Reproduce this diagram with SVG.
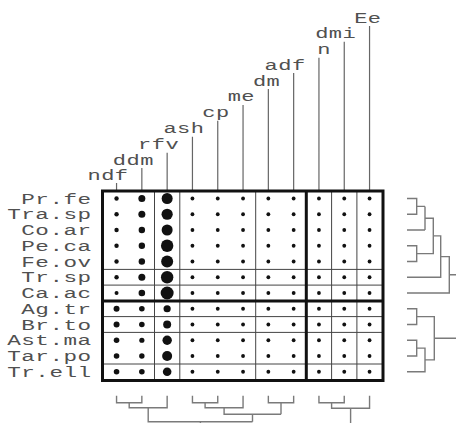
<svg xmlns="http://www.w3.org/2000/svg" xmlns:xlink="http://www.w3.org/1999/xlink" width="456" height="423" viewBox="0 0 456 423">
<style>
.lbl{font-family:"Liberation Mono","DejaVu Sans Mono",monospace;font-size:14.5px;fill:#505050;letter-spacing:0.3px;text-anchor:end}
.tick{stroke:#666;stroke-width:1.2;fill:none}
.thin{stroke:#444;stroke-width:1;fill:none}
.thick{stroke:#111;stroke-width:3;fill:none}
.dend{stroke:#7a7a7a;stroke-width:1.4;fill:none}
.dot{fill:#111}
</style>
<defs>
<g id="sd" class="dot">
<circle cx="192.45" cy="0" r="1.9"/><circle cx="217.75" cy="0" r="1.9"/><circle cx="243.05" cy="0" r="1.9"/><circle cx="268.35" cy="0" r="1.9"/><circle cx="293.65" cy="0" r="1.9"/><circle cx="318.95" cy="0" r="1.9"/><circle cx="344.25" cy="0" r="1.9"/><circle cx="369.55" cy="0" r="1.9"/>
</g>
</defs>
<rect width="456" height="423" fill="#fff"/>

<g id="column-labels">
<path class="tick" d="M116.55,183V191M141.85,168V191M167.15,152.7V191M192.45,136.7V191M217.75,120.7V191M243.05,105V191M268.35,89V191M293.65,73V191M318.95,57.7V191M344.25,41.7V191M369.55,26V191"/>
<text class="lbl" transform="translate(128.5,180.2) scale(1.52,1)">ndf</text>
<text class="lbl" transform="translate(153.8,164.5) scale(1.52,1)">ddm</text>
<text class="lbl" transform="translate(179.1,148.7) scale(1.52,1)">rfv</text>
<text class="lbl" transform="translate(204.4,132.9) scale(1.52,1)">ash</text>
<text class="lbl" transform="translate(229.7,117.2) scale(1.52,1)">cp</text>
<text class="lbl" transform="translate(255,101.4) scale(1.52,1)">me</text>
<text class="lbl" transform="translate(280.3,85.7) scale(1.52,1)">dm</text>
<text class="lbl" transform="translate(305.6,69.9) scale(1.52,1)">adf</text>
<text class="lbl" transform="translate(330.9,54.2) scale(1.52,1)">n</text>
<text class="lbl" transform="translate(356.2,38.4) scale(1.52,1)">dmi</text>
<text class="lbl" transform="translate(381.5,22.7) scale(1.52,1)">Ee</text>
</g>

<g id="row-labels">
<text class="lbl" transform="translate(91.5,203.5) scale(1.56,1)">Pr.fe</text>
<text class="lbl" transform="translate(91.5,219.25) scale(1.56,1)">Tra.sp</text>
<text class="lbl" transform="translate(91.5,235) scale(1.56,1)">Co.ar</text>
<text class="lbl" transform="translate(91.5,250.75) scale(1.56,1)">Pe.ca</text>
<text class="lbl" transform="translate(91.5,266.5) scale(1.56,1)">Fe.ov</text>
<text class="lbl" transform="translate(91.5,282.25) scale(1.56,1)">Tr.sp</text>
<text class="lbl" transform="translate(91.5,298) scale(1.56,1)">Ca.ac</text>
<text class="lbl" transform="translate(91.5,313.75) scale(1.56,1)">Ag.tr</text>
<text class="lbl" transform="translate(91.5,329.5) scale(1.56,1)">Br.to</text>
<text class="lbl" transform="translate(91.5,345.25) scale(1.56,1)">Ast.ma</text>
<text class="lbl" transform="translate(91.5,361) scale(1.56,1)">Tar.po</text>
<text class="lbl" transform="translate(91.5,376.75) scale(1.56,1)">Tr.ell</text>
</g>

<g id="grid">
<path class="thin" d="M154.5,191V380.5M179.8,191V380.5M255.7,191V380.5M331.6,191V380.5M356.9,191V380.5"/>
<path class="thin" d="M102.5,269.4H383M102.5,285.1H383M102.5,316.6H383M102.5,332.4H383M102.5,364H383"/>
<path class="thick" d="M102.5,300.9H383M306.3,191V380.5"/>
<rect class="thick" x="102.5" y="191" width="280.5" height="189.5"/>
</g>

<g id="dots" class="dot">
<use xlink:href="#sd" y="198.5"/><use xlink:href="#sd" y="214.25"/><use xlink:href="#sd" y="230"/><use xlink:href="#sd" y="245.75"/><use xlink:href="#sd" y="261.5"/><use xlink:href="#sd" y="277.25"/><use xlink:href="#sd" y="293"/><use xlink:href="#sd" y="308.75"/><use xlink:href="#sd" y="324.5"/><use xlink:href="#sd" y="340.25"/><use xlink:href="#sd" y="356"/><use xlink:href="#sd" y="371.75"/>
<circle cx="116.55" cy="198.5" r="2.2"/><circle cx="141.85" cy="198.5" r="3.5"/><circle cx="167.15" cy="198.5" r="5.5"/>
<circle cx="116.55" cy="214.25" r="2.2"/><circle cx="141.85" cy="214.25" r="3.5"/><circle cx="167.15" cy="214.25" r="5.6"/>
<circle cx="116.55" cy="230" r="2.2"/><circle cx="141.85" cy="230" r="3.2"/><circle cx="167.15" cy="230" r="5.5"/>
<circle cx="116.55" cy="245.75" r="2.2"/><circle cx="141.85" cy="245.75" r="3.2"/><circle cx="167.15" cy="245.75" r="6.2"/>
<circle cx="116.55" cy="261.5" r="2.2"/><circle cx="141.85" cy="261.5" r="3.2"/><circle cx="167.15" cy="261.5" r="6"/>
<circle cx="116.55" cy="277.25" r="2.2"/><circle cx="141.85" cy="277.25" r="3.5"/><circle cx="167.15" cy="277.25" r="6.2"/>
<circle cx="116.55" cy="293" r="2"/><circle cx="141.85" cy="293" r="3.3"/><circle cx="167.15" cy="293" r="6.5"/>
<circle cx="116.55" cy="308.75" r="3"/><circle cx="141.85" cy="308.75" r="2.8"/><circle cx="167.15" cy="308.75" r="3.6"/>
<circle cx="116.55" cy="324.5" r="3"/><circle cx="141.85" cy="324.5" r="2.8"/><circle cx="167.15" cy="324.5" r="4"/>
<circle cx="116.55" cy="340.25" r="2.8"/><circle cx="141.85" cy="340.25" r="2.6"/><circle cx="167.15" cy="340.25" r="4.7"/>
<circle cx="116.55" cy="356" r="2.8"/><circle cx="141.85" cy="356" r="2.7"/><circle cx="167.15" cy="356" r="5"/>
<circle cx="116.55" cy="371.75" r="2.8"/><circle cx="141.85" cy="371.75" r="2.8"/><circle cx="167.15" cy="371.75" r="4.3"/>
</g>

<g id="connectors">
<path class="dend" d="M407,198.5H416.7V214.25H407M416.7,206.4H425M407,230H425M425,206.4V230M407,245.75H416.7V261.5H407M425,218.2H433.3V253.6H416.7M433.3,235.9H440.7V277.25H407M440.7,256.6H449.3V293H407M449.3,274.8H456"/>
<path class="dend" d="M407,308.75H416.7V324.5H407M407,340.25H416.7V356H407M416.7,348.1H425V371.75H407M416.7,316.6H434.3V359.9H425M434.3,338.3H456"/>
<path class="dend" d="M116.55,395.7V402.7H141.85V395.7M129.2,402.7V407.7H167.15V395.7M148.2,407.7V421.7H252.5M200.4,421.7V424"/>
<path class="dend" d="M192.45,395.7V402.7H217.75V395.7M205.1,402.7V407.7H243.05V395.7M224.1,407.7V414.3H281M268.35,395.7V402.7H293.65V395.7M281,402.7V414.3M252.5,414.3V421.7"/>
<path class="dend" d="M318.95,395.7V402.7H344.25V395.7M331.6,402.7V408.3H369.55V395.7M350.6,408.3V424"/>
</g>
</svg>
